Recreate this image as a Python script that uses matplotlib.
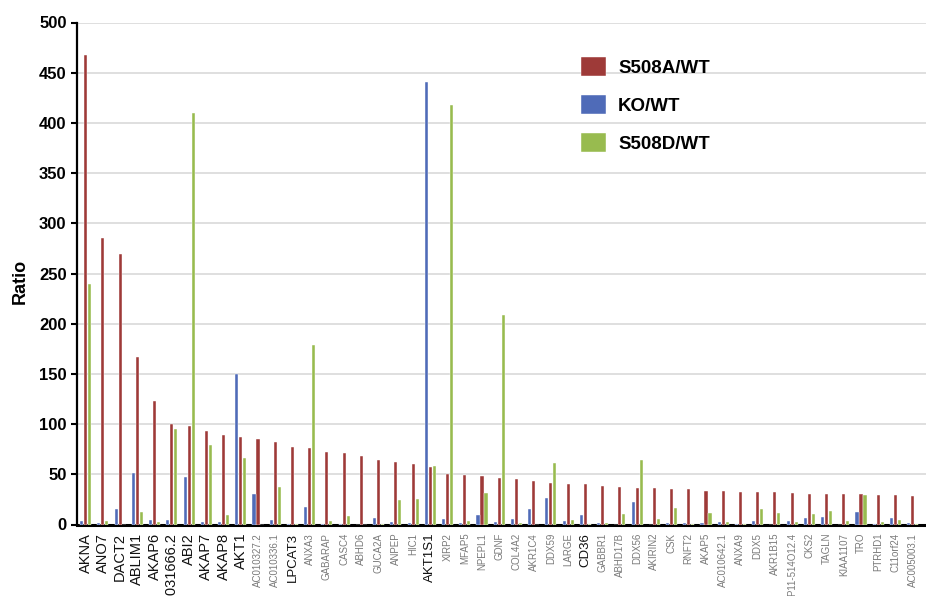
import matplotlib
matplotlib.use("Agg")
import matplotlib.pyplot as plt
import numpy as np

plt.rcParams['font.family'] = ['Liberation Sans', 'DejaVu Sans']

genes = ["AKNA", "ANO7", "DACT2", "ABLIM1", "AKAP6", "AL031666.2", "ABI2", "AKAP7",
         "AKAP8", "AKT1", "AC010327.2", "AC010336.1", "LPCAT3", "ANXA3", "GABARAP",
         "CASC4", "ABHD6", "GUCA2A", "ANPEP", "HIC1", "AKT1S1", "XIRP2", "MFAP5",
         "NPEPL1", "GDNF", "COL4A2", "AKR1C4", "DDX59", "LARGE", "CD36", "GABBR1",
         "ABHD17B", "DDX56", "AKIRIN2", "CSK", "RNFT2", "AKAP5", "AC010642.1", "ANXA9",
         "DDX5", "AKR1B15", "RP11-514O12.4", "CKS2", "TAGLN", "KIAA1107", "TRO",
         "PTRHD1", "C11orf24", "AC005003.1"]

s508a_wt = [468, 285, 269, 167, 123, 100.5, 98, 93, 89.5, 87, 85.5, 82.5, 77.5, 76.5,
            72, 71, 68.5, 64.5, 62.5, 60, 57, 50, 49.5, 48.5, 46.5, 45.5, 43.5, 41.5,
            40, 40, 38.5, 37, 36.5, 36.5, 35.5, 35.5, 33.5, 33.3, 32.8, 32.3, 32, 31.3,
            30.8, 30.3, 30.3, 30, 29.7, 29, 28]

ko_wt = [3, 1, 15.5, 51, 4, 4.5, 47.5, 2, 2, 150, 30.5, 4.5, 0.7, 17.5, 0.7, 0.7, 0,
         6, 2, 1.5, 441, 5.5, 1.5, 9, 2, 5, 15.5, 26, 3.5, 9.5, 1.3, 0, 22, 0, 1.5,
         1.3, 1.2, 2.3, 0.3, 3, 0, 3.3, 6.3, 7, 0, 12.7, 0.7, 6.3, 1.7]

s508d_wt = [240, 3, 0, 12, 2, 95.5, 410, 79, 9.5, 66, 0, 37.5, 0.5, 179, 3.5, 8, 0,
            0.3, 24.5, 25.5, 58.5, 418, 3.5, 31.5, 209, 1.5, 0, 61.5, 4.5, 0.3, 1.5,
            10, 64, 5, 16.5, 0.3, 11.5, 2, 0.7, 15.3, 11.3, 2.3, 10.7, 13.3, 3, 29,
            2.7, 4.3, 0.7]

# genes whose names are set in large black type on the axis
highlighted = {"AKNA", "ANO7", "DACT2", "ABLIM1", "AKAP6", "AL031666.2", "ABI2",
               "AKAP7", "AKAP8", "AKT1"}
highlighted_small = {"LPCAT3", "AKT1S1", "CD36"}

RED = "#9e3a38"
BLUE = "#4f6bb8"
GREEN = "#98bb4f"

W, H = 926, 596
fig = plt.figure(figsize=(W / 100, H / 100), dpi=100)
ax = fig.add_axes([77 / W, 1 - 524.5 / H, 849 / W, 502 / H])

x = np.arange(len(genes))
off = 0.232
bw = 0.18
kw = dict(edgecolor="white", linewidth=0.3, zorder=3)
ax.bar(x, s508a_wt, bw, color=RED, label="S508A/WT", **kw)
ax.bar(x - off, ko_wt, bw, color=BLUE, label="KO/WT", **kw)
ax.bar(x + off, s508d_wt, bw, color=GREEN, label="S508D/WT", **kw)

ax.set_ylim(0, 500)
ax.set_xlim(-0.505, 48.77)
ax.set_yticks(np.arange(0, 501, 50))
ax.yaxis.grid(True, color="#d9d9d9", linewidth=1.2, zorder=0)
ax.set_axisbelow(True)

for side in ("top", "right"):
    ax.spines[side].set_visible(False)
ax.spines["left"].set_linewidth(1.6)
ax.spines["bottom"].set_linewidth(2.2)

ax.tick_params(axis="y", direction="out", length=4, width=1.5, pad=3.5,
               labelsize=12)
for lbl in ax.get_yticklabels():
    lbl.set_fontweight("bold")

ax.set_xticks(x)
ax.set_xticklabels(genes, rotation=90)
ax.tick_params(axis="x", length=0, pad=6)
for lbl, g in zip(ax.get_xticklabels(), genes):
    if g in highlighted:
        lbl.set_fontsize(10.5)
        lbl.set_color("#111111")
    elif g in highlighted_small:
        lbl.set_fontsize(9.5)
        lbl.set_color("#111111")
    else:
        lbl.set_fontsize(7)
        lbl.set_color("#7a7a7a")

fig.text(20 / W, 1 - 281 / H, "Ratio", rotation=90, ha="center", va="center",
         fontsize=13, fontweight="bold")

leg = ax.legend(loc="upper left", bbox_to_anchor=(566 / W, 1 - 42 / H),
                bbox_transform=fig.transFigure, frameon=False,
                prop={"size": 13.5, "weight": "bold"}, labelspacing=0.98,
                handlelength=1.33, handleheight=1.17, handletextpad=0.65,
                borderpad=0.3)

fig.savefig("out.png", dpi=100)
